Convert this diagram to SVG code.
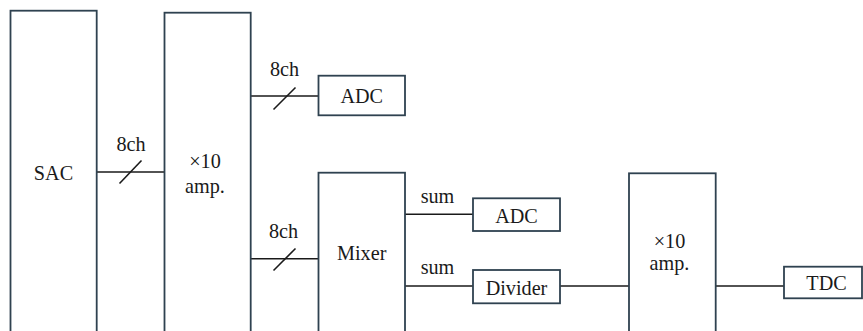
<svg xmlns="http://www.w3.org/2000/svg" width="863" height="331" viewBox="0 0 863 331">
<style>
.box{fill:#fff;stroke:#2f4250;stroke-width:1.8}
.ln{fill:none;stroke:#1a1a1a;stroke-width:1.6}
text{font-size:20.2px;fill:#1a1a1a;text-anchor:middle}
</style>
<rect width="863" height="331" fill="#fff"/>
<g font-family="'Liberation Serif', 'Times New Roman', Times, 'DejaVu Serif', serif">
<g id="connectors">
<line class="ln" x1="97" y1="172" x2="164" y2="172"/>
<line class="ln" x1="119.5" y1="183.5" x2="141.5" y2="160.5"/>
<text x="131" y="151">8ch</text>
<line class="ln" x1="251" y1="96" x2="318" y2="96"/>
<line class="ln" x1="273.5" y1="109.5" x2="295.5" y2="87.5"/>
<text x="284.5" y="76">8ch</text>
<line class="ln" x1="251" y1="258.7" x2="318" y2="258.7"/>
<line class="ln" x1="273.5" y1="270.5" x2="295.5" y2="248.5"/>
<text x="283.5" y="238">8ch</text>
<line class="ln" x1="405" y1="214.3" x2="473" y2="214.3"/>
<text x="437.5" y="203">sum</text>
<line class="ln" x1="405" y1="286" x2="473" y2="286"/>
<text x="437.5" y="274">sum</text>
<line class="ln" x1="560" y1="286" x2="629" y2="286"/>
<line class="ln" x1="716" y1="286" x2="784" y2="286"/>
</g>
<g id="sac"><rect class="box" x="10.5" y="10.7" width="86.2" height="330"/><text x="53.5" y="180">SAC</text></g>
<g id="amp1"><rect class="box" x="164.5" y="12.7" width="86.2" height="330"/><text x="205" y="168">×10</text><text x="205" y="192.5">amp.</text></g>
<g id="adc1"><rect class="box" x="318.5" y="75.7" width="86.5" height="39.6"/><text x="361.7" y="103">ADC</text></g>
<g id="mixer"><rect class="box" x="318.5" y="172.7" width="86.5" height="170"/><text x="361.7" y="260">Mixer</text></g>
<g id="adc2"><rect class="box" x="473" y="198.3" width="87" height="32.7"/><text x="516.5" y="223">ADC</text></g>
<g id="divider"><rect class="box" x="473" y="270" width="87" height="33.3"/><text x="516.5" y="294.5">Divider</text></g>
<g id="amp2"><rect class="box" x="629" y="173.3" width="86.7" height="170"/><text x="669.5" y="248">×10</text><text x="669.5" y="270">amp.</text></g>
<g id="tdc"><rect class="box" x="784" y="266.7" width="78" height="31.6"/><text x="826.5" y="290">TDC</text></g>
</g>
</svg>
